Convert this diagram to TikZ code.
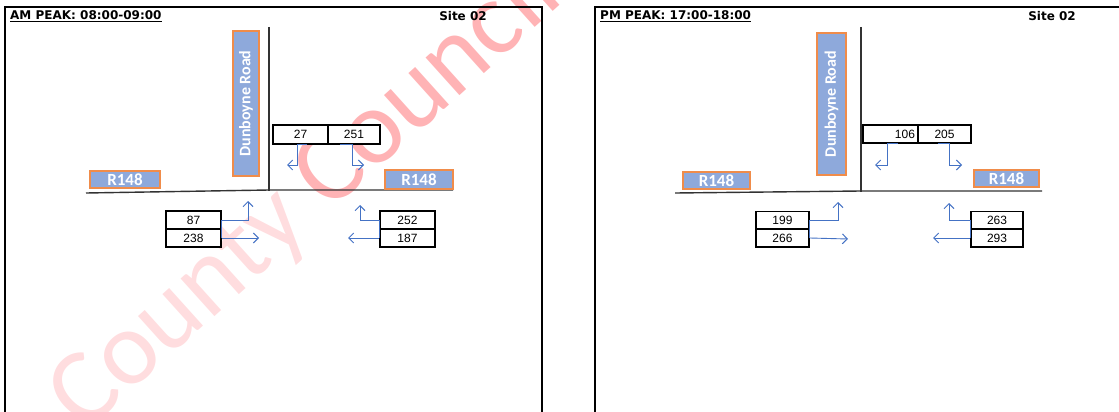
\documentclass[tikz,border=0pt]{standalone}
\usepackage{fontspec}
\setmainfont{Liberation Sans}
\newfontfamily\roadfont{Carlito}
\newfontfamily\headfont{DejaVu Sans}
\usepackage{tikz}
\usetikzlibrary{arrows.meta}
\definecolor{roadblue}{HTML}{8EA9DB}
\definecolor{roadedge}{HTML}{F08C4A}
\definecolor{flowblue}{HTML}{4472C4}
\definecolor{wmlight}{HTML}{FFDDDF}
\definecolor{wmdark}{HTML}{FFB3B5}

\begin{document}
\begin{tikzpicture}[
  x=1pt, y=-1pt,
  roadlabel/.style={draw=roadedge,line width=1.2pt,fill=roadblue,text=white,
                    font=\roadfont\bfseries\fontsize{17}{17}\selectfont,inner sep=0pt},
  countbox/.style={draw=black,line width=1.6pt,fill=white,minimum width=55pt,
                   minimum height=18pt,inner sep=0pt,font=\fontsize{12}{12}\selectfont},
  flow/.style={draw=flowblue,line width=0.9pt,
               -{Straight Barb[length=5pt,width=10pt,line width=1pt]}},
  road/.style={draw=black!80,line width=1.4pt},
  panel/.style={draw=black,line width=2pt},
  heading/.style={font=\headfont\bfseries\fontsize{12}{12}\selectfont,inner sep=0pt},
]
\useasboundingbox (0,0) rectangle (1119,412);
\clip (0,0) rectangle (1119,412);

% watermark
\node[rotate=42,text=wmlight,font=\roadfont\fontsize{106}{106}\selectfont] (wmark) at (306,196)
  {County {\color{wmdark}Council}};

% panel frames
\draw[panel] (5,420) -- (5,7) -- (542,7) -- (542,420);
\draw[panel] (595,420) -- (595,7) -- (1130,7);

% ---- AM peak ----
\node[heading,anchor=west] (amtitle) at (10,16) {\underline{AM PEAK: 08:00-09:00}};
\node[heading] (amsite) at (463,16) {Site 02};

\draw[road] (269,27) -- (269,191);
\draw[road] (86,193) -- (269,190) -- (453,190);

\node[roadlabel,rotate=90,minimum width=145pt,minimum height=26pt,
      font=\roadfont\bfseries\fontsize{16}{16}\selectfont] (amdun) at (246,103.5) {Dunboyne Road};
\node[roadlabel,minimum width=70pt,minimum height=17pt] (amwest) at (125,179.5) {R148};
\node[roadlabel,minimum width=68pt,minimum height=19pt] (ameast) at (419,179.5) {R148};

\node[countbox,minimum height=19pt] (am27) at (300.5,134.5) {27};
\node[countbox,minimum height=19pt,minimum width=52pt] (am251) at (354,134.5) {251};
\node[countbox] (am87) at (193.5,220) {87};
\node[countbox] (am238) at (193.5,238) {238};
\node[countbox] (am252) at (407.5,220) {252};
\node[countbox] (am187) at (407.5,238) {187};

\coordinate (amtipA) at (287,165);
\coordinate (amtipB) at (364,165);
\coordinate (amtipC) at (248,201);
\coordinate (amtipD) at (259,238);
\coordinate (amtipE) at (360,205);
\coordinate (amtipF) at (348,238);

\draw[flow] ([xshift=6.5pt]am27.south) -- ++(-10,0) |- (amtipA);
\draw[flow] ([xshift=-14pt]am251.south) -- ++(12,0) |- (amtipB);
\draw[flow] (am238.east) -- (am87.east) -| (amtipC);
\draw[flow] (am238.east) -- (amtipD);
\draw[flow] (am187.west) -- (am252.west) -| (amtipE);
\draw[flow] (am187.west) -- (amtipF);

% ---- PM peak ----
\node[heading,anchor=west] (pmtitle) at (600,16) {\underline{PM PEAK: 17:00-18:00}};
\node[heading] (pmsite) at (1052,16) {Site 02};

\draw[road] (861,27) -- (861,192);
\draw[road] (675,193) -- (861,191) -- (1042,191);

\node[roadlabel,rotate=90,minimum width=142pt,minimum height=29pt,
      font=\roadfont\bfseries\fontsize{16}{16}\selectfont] (pmdun) at (831.5,104) {Dunboyne Road};
\node[roadlabel,minimum width=67pt,minimum height=17pt] (pmwest) at (716.5,180.5) {R148};
\node[roadlabel,minimum width=65pt,minimum height=17pt] (pmeast) at (1006.5,178.5) {R148};

\node[countbox,text width=49pt,align=right] (pm106) at (890.5,134) {106};
\node[countbox,minimum width=53pt] (pm205) at (944.5,134) {205};
\node[countbox,minimum width=53pt] (pm199) at (782.5,220.5) {199};
\node[countbox,minimum width=53pt] (pm266) at (782.5,238) {266};
\node[countbox,minimum width=52pt] (pm263) at (997,220.5) {263};
\node[countbox,minimum width=52pt] (pm293) at (997,238) {293};

\coordinate (pmtipA) at (875,165);
\coordinate (pmtipB) at (962,165);
\coordinate (pmtipC) at (838,202);
\coordinate (pmtipD) at (848,239);
\coordinate (pmtipE) at (949,203);
\coordinate (pmtipF) at (933,238);

\draw[flow] ([xshift=7.5pt]pm106.south) -- ++(-11,0) |- (pmtipA);
\draw[flow] ([xshift=-6.5pt]pm205.south) -- ++(11,0) |- (pmtipB);
\draw[flow] (pm266.east) -- (pm199.east) -| (pmtipC);
\draw[flow] (pm266.east) -- (pmtipD);
\draw[flow] (pm293.west) -- (pm263.west) -| (pmtipE);
\draw[flow] (pm293.west) -- (pmtipF);
\end{tikzpicture}
\end{document}
